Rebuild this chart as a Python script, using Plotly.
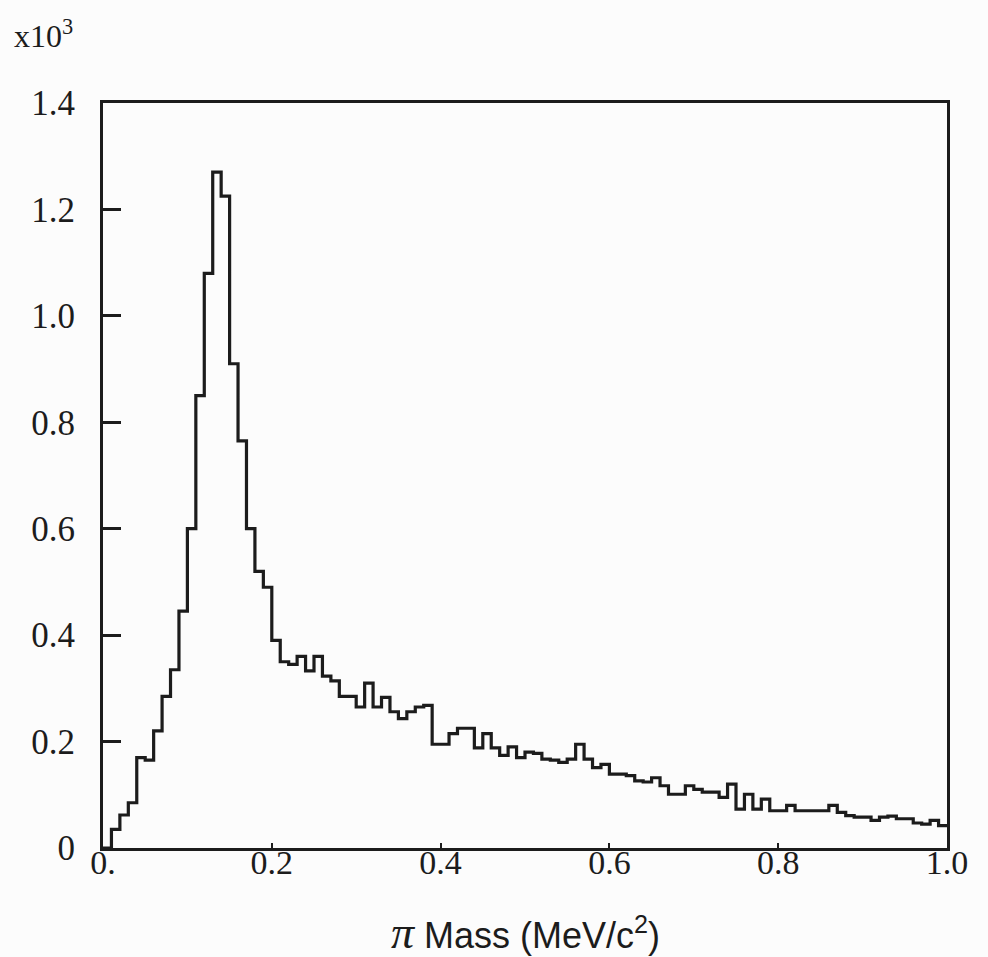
import numpy as np
import plotly.graph_objects as go

# pi mass histogram, counts in units of 10^3, 100 bins of 0.01 from 0 to 1.0
bin_width = 0.01
counts = [
    0.0, 0.035, 0.062, 0.085, 0.17, 0.165, 0.22, 0.285, 0.335, 0.445,
    0.60, 0.85, 1.08, 1.27, 1.225, 0.91, 0.765, 0.60, 0.52, 0.49,
    0.39, 0.35, 0.345, 0.36, 0.333, 0.36, 0.323, 0.314, 0.285, 0.285,
    0.265, 0.31, 0.265, 0.283, 0.256, 0.243, 0.256, 0.265, 0.268, 0.195,
    0.195, 0.215, 0.225, 0.225, 0.188, 0.215, 0.188, 0.174, 0.19, 0.17,
    0.18, 0.178, 0.167, 0.165, 0.161, 0.167, 0.195, 0.167, 0.151, 0.157,
    0.139, 0.139, 0.136, 0.126, 0.124, 0.132, 0.117, 0.101, 0.101, 0.117,
    0.11, 0.105, 0.105, 0.095, 0.12, 0.073, 0.101, 0.073, 0.092, 0.07,
    0.07, 0.08, 0.07, 0.07, 0.07, 0.07, 0.08, 0.067, 0.061, 0.058,
    0.058, 0.052, 0.058, 0.06, 0.055, 0.055, 0.047, 0.045, 0.052, 0.042,
]

x_tickvals = [0, 0.2, 0.4, 0.6, 0.8, 1.0]
x_ticktext = ["0.", "0.2", "0.4", "0.6", "0.8", "1.0"]
y_tickvals = [0, 0.2, 0.4, 0.6, 0.8, 1.0, 1.2, 1.4]
y_ticktext = ["0", "0.2", "0.4", "0.6", "0.8", "1.0", "1.2", "1.4"]

INK = "#1c1c1c"
SERIF = "Liberation Serif"
SANS = "Liberation Sans"

edges = np.arange(len(counts) + 1) * bin_width
# step outline: each bin's left edge carries its count, closed at the last edge
xs = list(edges)
ys = counts + [counts[-1]]

fig = go.Figure()
fig.add_trace(go.Scatter(
    x=xs, y=ys,
    mode="lines",
    line=dict(color=INK, width=3.2, shape="hv"),
    hoverinfo="skip",
    showlegend=False,
))

fig.update_layout(
    width=988, height=957,
    paper_bgcolor="#fcfcfc",
    plot_bgcolor="#fcfcfc",
    margin=dict(l=103, r=41, t=103, b=109),
    font=dict(family=SERIF, color=INK, size=30),
    xaxis=dict(
        range=[0, 1.0],
        tickvals=x_tickvals, ticktext=x_ticktext,
        ticks="inside", ticklen=5, tickwidth=2, tickcolor=INK,
        showline=True, linewidth=3, linecolor=INK, mirror=True,
        showgrid=False, zeroline=False,
        tickfont=dict(family=SERIF, size=34, color=INK),
        ticklabelstandoff=-18,
    ),
    yaxis=dict(
        range=[0, 1.4],
        tickvals=y_tickvals, ticktext=y_ticktext,
        ticks="inside", ticklen=18, tickwidth=3, tickcolor=INK,
        showline=True, linewidth=3, linecolor=INK, mirror=True,
        showgrid=False, zeroline=False,
        tickfont=dict(family=SERIF, size=35, color=INK),
        ticklabelstandoff=18,
    ),
    annotations=[
        dict(
            text="x10<sup>3</sup>",
            xref="paper", yref="paper", x=-0.108, y=1.093,
            xanchor="left", yanchor="middle", showarrow=False,
            font=dict(family=SERIF, size=32, color=INK),
        ),
        dict(
            text=("<span style='font-family:Liberation Serif;font-size:46px'><i>\u03c0</i></span>"
                  " Mass (MeV/c<sup>2</sup>)"),
            xref="paper", yref="paper", x=0.5, y=-0.113,
            xanchor="center", yanchor="middle", showarrow=False,
            font=dict(family=SANS, size=36, color=INK),
        ),
    ],
)

# drop the default page margin so the figure fills the window exactly
fig.write_html(
    "out.html",
    config={"displayModeBar": False},
    post_script="document.body.style.margin='0';",
)
